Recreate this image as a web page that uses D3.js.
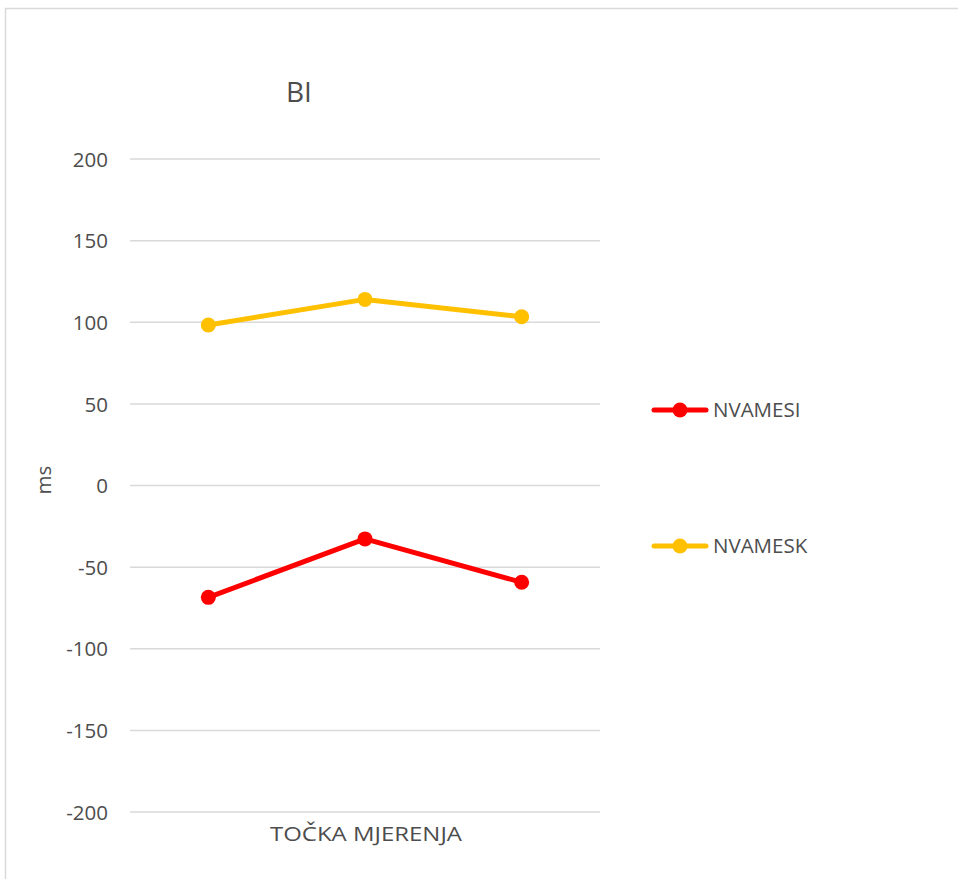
<!DOCTYPE html>
<html><head><meta charset="utf-8">
<script src="https://cdn.jsdelivr.net/npm/d3@7"></script>
<style>body{margin:0;background:#fff}svg{display:block}</style>
</head><body>
<script>
const categories = ["1", "2", "3"];
const seriesNames = ["NVAMESI", "NVAMESK"];
const nvamesi = [-68.5, -32.7, -59.3];
const nvamesk = [98.3, 114, 103.4];
const yTicks = [200, 150, 100, 50, 0, -50, -100, -150, -200];
const colors = ["#ff0000", "#ffc000"];
const title = "BI";
const xTitle = "TOČKA MJERENJA";
const yTitle = "ms";

const W = 958, H = 879;
const font = "'Open Sans', 'Liberation Sans', sans-serif";
const txt = "#4d4d4d";
const svg = d3.select("body").append("svg").attr("width", W).attr("height", H);
svg.append("rect").attr("x", 5.5).attr("y", 8.5).attr("width", W + 10).attr("height", H + 10)
  .attr("fill", "#fff").attr("stroke", "#d9d9d9").attr("stroke-width", 1.5);

const x = d3.scaleBand().domain(categories).range([130, 600]);
const y = d3.scaleLinear().domain([-200, 200]).range([812, 159]);

const grid = svg.append("g");
grid.selectAll("line").data(yTicks).join("line")
  .attr("x1", 130).attr("x2", 600)
  .attr("y1", d => y(d)).attr("y2", d => y(d))
  .attr("stroke", "#d9d9d9").attr("stroke-width", 1.5);

const yAxis = svg.append("g").attr("transform", "translate(108,0)")
  .call(d3.axisLeft(y).tickValues(yTicks).tickSize(0).tickPadding(0).tickFormat(d => String(d)));
yAxis.select(".domain").remove();
yAxis.selectAll("text").attr("font-family", font).attr("font-size", 20.5).attr("fill", txt)
  .attr("dy", "0.35em");

svg.append("text").attr("x", 299).attr("y", 102).attr("text-anchor", "middle")
  .attr("font-family", font).attr("font-size", 28).attr("fill", txt).text(title);

svg.append("text").attr("x", 366).attr("y", 841).attr("text-anchor", "middle")
  .attr("font-family", font).attr("font-size", 20.5).attr("fill", txt)
  .attr("textLength", 192).attr("lengthAdjust", "spacingAndGlyphs").text(xTitle);

svg.append("text").attr("transform", "translate(51,480) rotate(-90)").attr("text-anchor", "middle")
  .attr("font-family", font).attr("font-size", 20.5).attr("fill", txt).text(yTitle);

const data = [nvamesi, nvamesk];
const line = d3.line().x((d, i) => x(categories[i]) + x.bandwidth() / 2).y(d => y(d));
data.forEach((vals, s) => {
  const g = svg.append("g");
  g.append("path").attr("d", line(vals)).attr("fill", "none")
    .attr("stroke", colors[s]).attr("stroke-width", 5).attr("stroke-linejoin", "round");
  g.selectAll("circle").data(vals).join("circle")
    .attr("cx", (d, i) => x(categories[i]) + x.bandwidth() / 2).attr("cy", d => y(d))
    .attr("r", 7.5).attr("fill", colors[s]);
});

const legY = [410, 546];
seriesNames.forEach((n, s) => {
  const g = svg.append("g").attr("transform", `translate(0,${legY[s]})`);
  g.append("line").attr("x1", 654).attr("x2", 706).attr("y1", 0).attr("y2", 0)
    .attr("stroke", colors[s]).attr("stroke-width", 5).attr("stroke-linecap", "round");
  g.append("circle").attr("cx", 680).attr("cy", 0).attr("r", 7.5).attr("fill", colors[s]);
  g.append("text").attr("x", 713).attr("y", 0).attr("dy", "0.35em")
    .attr("font-family", font).attr("font-size", 20.5).attr("fill", txt).text(n);
});
</script>
</body></html>
